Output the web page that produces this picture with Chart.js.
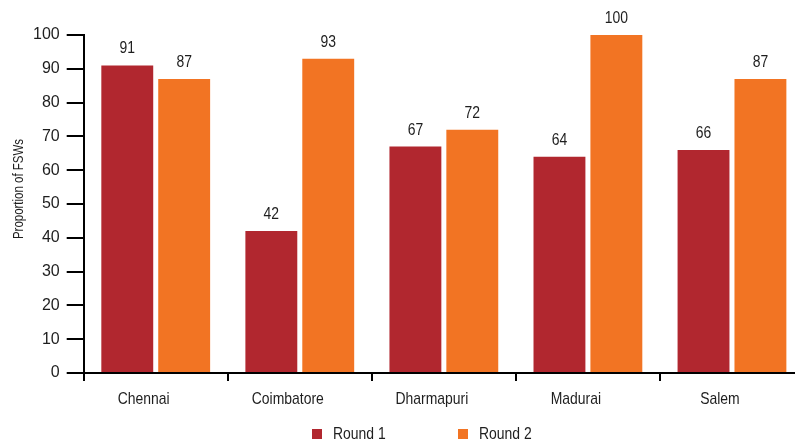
<!DOCTYPE html>
<html>
<head>
<meta charset="utf-8">
<script src="https://cdn.jsdelivr.net/npm/chart.js@4.4.1/dist/chart.umd.min.js"></script>
<style>
html,body{margin:0;padding:0;background:#fff;overflow:hidden;}
#wrap{width:804px;height:444px;}
</style>
</head>
<body>
<div id="wrap"><canvas id="c" width="804" height="444"></canvas></div>
<script>
const categories = ["Chennai", "Coimbatore", "Dharmapuri", "Madurai", "Salem"];
const round1 = [91, 42, 67, 64, 66];
const round2 = [87, 93, 72, 100, 87];
const seriesNames = ["Round 1", "Round 2"];
const yTicks = [0, 10, 20, 30, 40, 50, 60, 70, 80, 90, 100];
const yTitle = "Proportion of FSWs";

const RED = "#B1272F";
const ORANGE = "#F27423";
const TEXT = "#1e1e1e";
const FONT = "'Liberation Sans', Arial, sans-serif";
const SQUEEZE = 0.82;

function narrowText(ctx, text, x, y, size, align, baseline, rot) {
  ctx.save();
  ctx.translate(x, y);
  if (rot) ctx.rotate(rot);
  ctx.scale(SQUEEZE, 1);
  ctx.font = size + "px " + FONT;
  ctx.fillStyle = TEXT;
  ctx.textAlign = align;
  ctx.textBaseline = baseline;
  ctx.fillText(text, 0, 0);
  ctx.restore();
}

const textLayer = {
  id: "textLayer",
  afterDraw(chart) {
    const ctx = chart.ctx;
    // value labels
    chart.data.datasets.forEach((ds, i) => {
      const meta = chart.getDatasetMeta(i);
      meta.data.forEach((el, j) => {
        narrowText(ctx, String(ds.data[j]), el.x, el.y - 12, 17, "center", "alphabetic");
      });
    });
    // category labels
    const xs = chart.scales.x;
    categories.forEach((c, i) => {
      narrowText(ctx, c, xs.getPixelForValue(i) - 12, xs.top + 31, 17, "center", "alphabetic");
    });
    // y title
    const ys = chart.scales.y;
    narrowText(ctx, yTitle, 19, (ys.top + ys.bottom) / 2 - 15, 14, "center", "middle", -Math.PI / 2);
    // legend
    const items = [{x: 312, c: RED}, {x: 458, c: ORANGE}];
    items.forEach((it, i) => {
      ctx.save();
      ctx.fillStyle = it.c;
      ctx.fillRect(it.x, 429, 10, 10);
      ctx.restore();
      narrowText(ctx, seriesNames[i], it.x + 21, 439, 17, "left", "alphabetic");
    });
  }
};

new Chart(document.getElementById("c"), {
  type: "bar",
  data: {
    labels: categories,
    datasets: [
      {label: seriesNames[0], data: round1, backgroundColor: RED},
      {label: seriesNames[1], data: round2, backgroundColor: ORANGE}
    ]
  },
  options: {
    responsive: false,
    animation: false,
    devicePixelRatio: 1,
    categoryPercentage: 0.79,
    barPercentage: 0.912,
    layout: {padding: {top: 35, left: 26, right: 0, bottom: 63}},
    plugins: {legend: {display: false}, tooltip: {enabled: false}},
    scales: {
      x: {
        grid: {display: true, drawOnChartArea: false, offset: true, tickLength: 8, color: "#000", lineWidth: 2},
        border: {display: true, color: "#000", width: 2},
        ticks: {display: false}
      },
      y: {
        min: 0, max: 100,
        afterBuildTicks(scale) { scale.ticks = yTicks.map(v => ({value: v})); },
        grid: {display: true, drawOnChartArea: false, tickLength: 17, color: "#000", lineWidth: 2},
        border: {display: true, color: "#000", width: 2},
        ticks: {color: TEXT, font: {family: FONT, size: 16}, padding: 7}
      }
    }
  },
  plugins: [textLayer]
});
</script>
</body>
</html>
